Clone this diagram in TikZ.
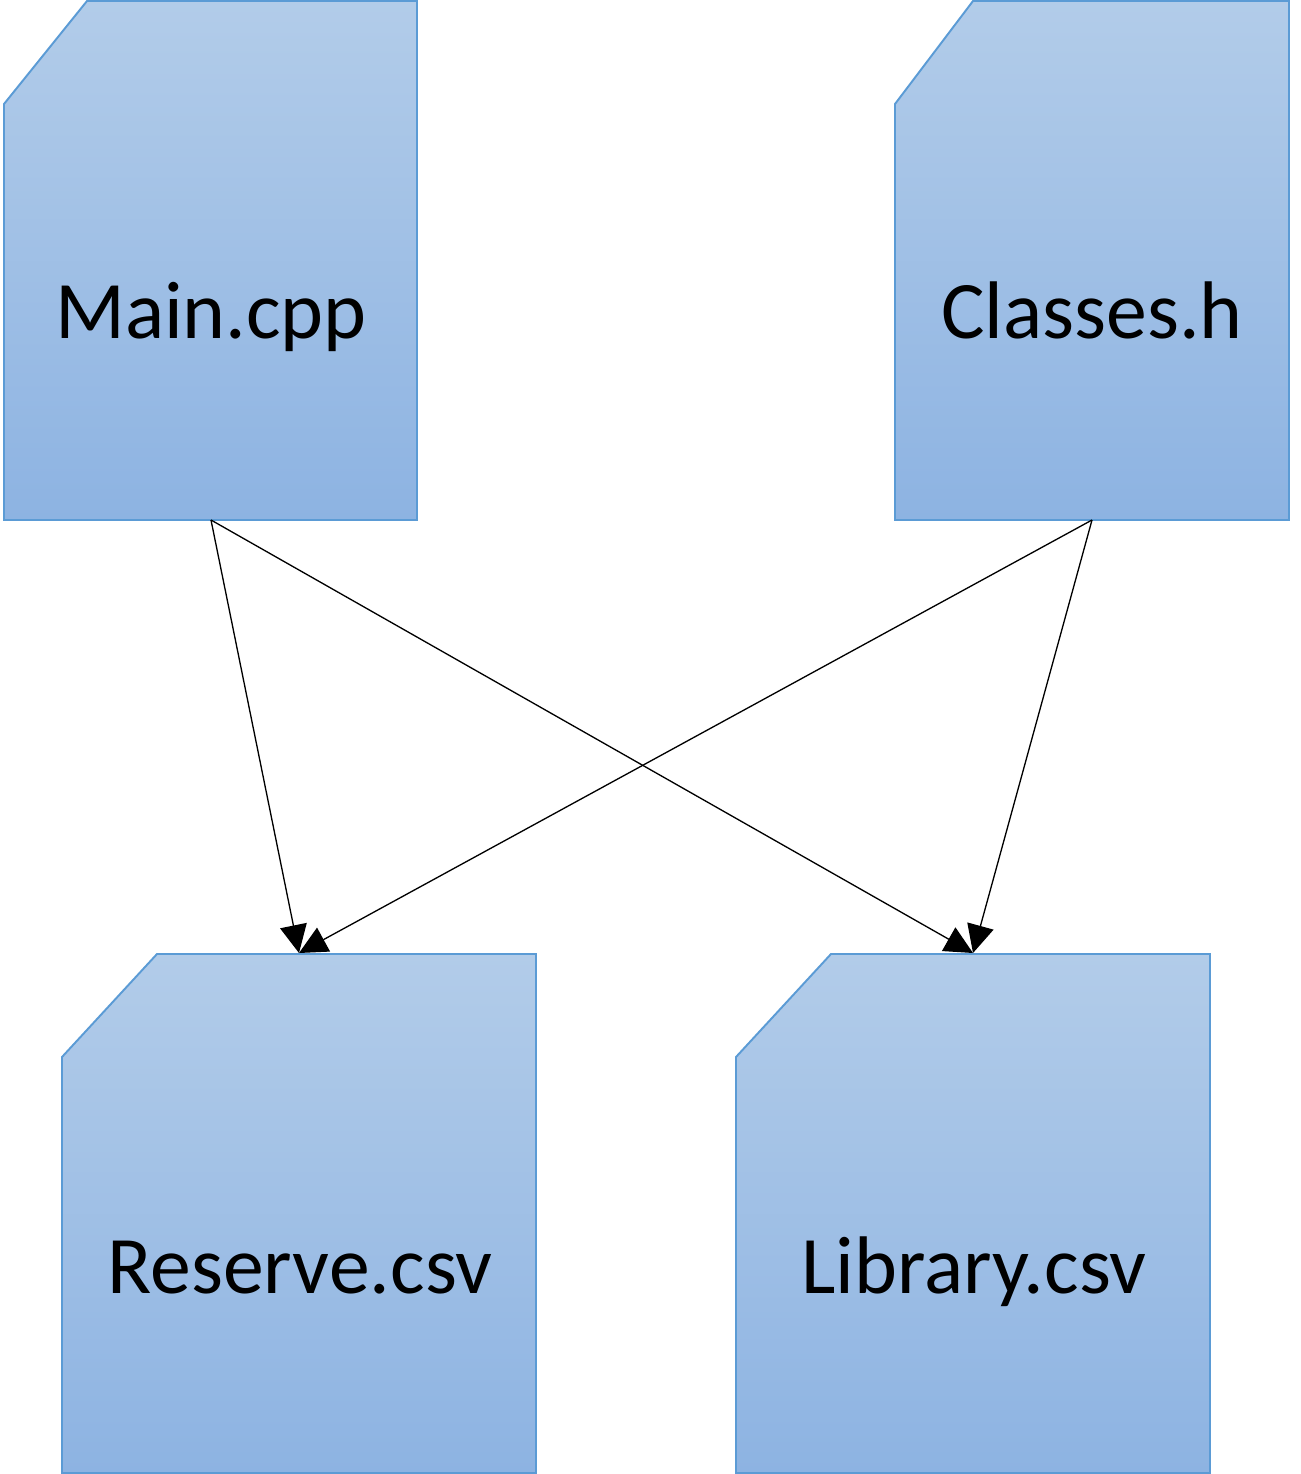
\documentclass[tikz,border=0pt]{standalone}
\usepackage{fontspec}
\setmainfont{Carlito}
\usepackage{xcolor}
\usepackage{tikz}
\usetikzlibrary{arrows.meta}
\usetikzlibrary{positioning}

\definecolor{cardtop}{HTML}{B2CCE9}
\definecolor{cardbottom}{HTML}{8DB3E2}
\definecolor{cardline}{HTML}{5B9BD5}

\tikzset{
	card/.style={top color=cardtop, bottom color=cardbottom, draw=cardline, line width=1.1pt},
	cardtext/.style={anchor=base, inner sep=0pt, font=\fontsize{46.5}{54}\selectfont},
	link/.style={-{Triangle[length=0.56cm, width=0.54cm]}, line width=0.75pt}
}

\begin{document}
\begin{tikzpicture}[x=0.02cm, y=-0.02cm]
	\useasboundingbox (0,0) rectangle (1301,1474);
	% file cards
	\path[card] (87,1) -- (417,1) -- (417,520) -- (4,520) -- (4,104) -- cycle;
	\path[card] (973,1) -- (1289,1) -- (1289,520) -- (895,520) -- (895,104) -- cycle;
	\path[card] (157,954) -- (536,954) -- (536,1473) -- (62,1473) -- (62,1057) -- cycle;
	\path[card] (831,954) -- (1210,954) -- (1210,1473) -- (736,1473) -- (736,1057) -- cycle;
	\node[cardtext] (Main) at (211,338) {Main.cpp};
	\node[cardtext] (Classes) at (1092,338) {Classes.h};
	\node[cardtext] (Reserve) at (300,1293) {Reserve.csv};
	\node[cardtext] (Library) at (974,1293) {Library.csv};
	% card edges
	\coordinate (Main bottom) at (211,520);
	\coordinate (Classes bottom) at (1092,520);
	\coordinate (Reserve top) at (299,953);
	\coordinate (Library top) at (973,953);
	\draw[link] (Main bottom) -- (Reserve top);
	\draw[link] (Main bottom) -- (Library top);
	\draw[link] (Classes bottom) -- (Reserve top);
	\draw[link] (Classes bottom) -- (Library top);
\end{tikzpicture}
\end{document}
